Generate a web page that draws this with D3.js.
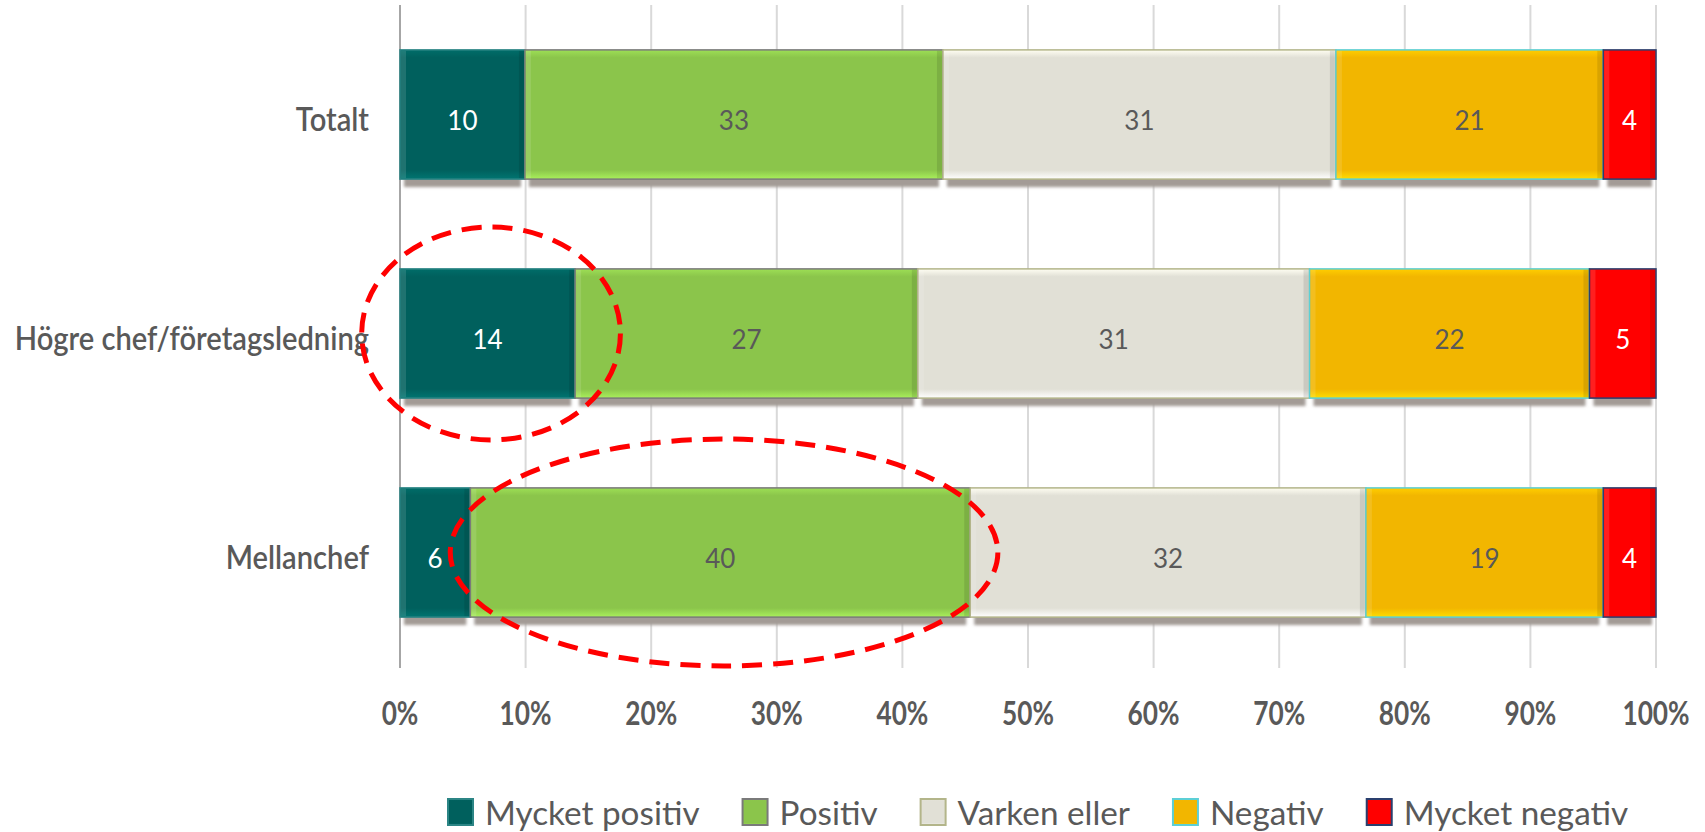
<!DOCTYPE html>
<html>
<head>
<meta charset="utf-8">
<script src="https://cdn.jsdelivr.net/npm/d3@7"></script>
<style>
  body { margin: 0; background: #fff; }
  svg { display: block; font-family: Lato, "Open Sans", sans-serif; }
</style>
</head>
<body>
<svg width="1705" height="832"></svg>
<script>
(function () {
    'use strict'

    // data (shares in %, stacked to 100)
    const categories = ['Totalt', 'Högre chef/företagsledning', 'Mellanchef'];
    const seriesNames = ['Mycket positiv', 'Positiv', 'Varken eller', 'Negativ', 'Mycket negativ'];
    const mycketPositiv = [9.95, 13.95, 5.6];
    const positiv = [33.3, 27.3, 39.8];
    const varkenEller = [31.3, 31.2, 31.5];
    const negativ = [21.3, 22.3, 18.9];
    const mycketNegativ = [4.2, 5.3, 4.2];
    const tickValues = [0, 0.1, 0.2, 0.3, 0.4, 0.5, 0.6, 0.7, 0.8, 0.9, 1];

    // red dashed rings drawn on top (centre / half width in %, half height in band steps)
    const highlights = [
        { category: 'Högre chef/företagsledning', center: 7.25, halfWidth: 10.3, halfHeight: 0.486 },
        { category: 'Mellanchef', center: 25.8, halfWidth: 21.8, halfHeight: 0.518 }
    ];

    const fills = ['#00605d', '#8bc54b', '#e1e0d6', '#f2b600', '#ff0000'];
    const borders = ['#2c8585', '#7a7a7a', '#b3b58a', '#5ccfd6', '#2a3f6e'];
    const labelColors = ['#ffffff', '#595959', '#595959', '#595959', '#ffffff'];

    const seriesValues = [mycketPositiv, positiv, varkenEller, negativ, mycketNegativ];
    const table = categories.map((c, i) => {
        let row = { category: c };
        seriesNames.forEach((s, j) => row[s] = seriesValues[j][i]);
        return row;
    });

    let svg = d3.select('svg'),
        margin = { top: 5, right: 49, bottom: 170, left: 400 },
        width = +svg.attr('width') - margin.left - margin.right,
        height = +svg.attr('height') - margin.top - margin.bottom,
        g = svg.append('g').attr('transform', 'translate(' + margin.left + ',' + margin.top + ')');

    let x = d3.scaleLinear().domain([0, 1]).range([0, width]);
    let y = d3.scaleBand().domain(categories).range([0, height])
        .paddingInner(0.41).paddingOuter(0.205);
    const bw = y.bandwidth();

    const layers = d3.stack().keys(seriesNames).offset(d3.stackOffsetExpand)(table);

    // narrow / widen text horizontally, keeping its height
    function squeeze(sel, k) {
        sel.each(function () {
            const w = this.getComputedTextLength();
            d3.select(this).attr('textLength', w * k).attr('lengthAdjust', 'spacingAndGlyphs');
        });
    }

    // gradients for the bevelled look
    let defs = svg.append('defs');
    fills.forEach((c, i) => {
        let grad = defs.append('linearGradient').attr('id', 'bev' + i)
            .attr('x1', 0).attr('x2', 0).attr('y1', 0).attr('y2', 1);
        let light = d3.color(c).brighter(0.35).formatHex();
        let lighter = d3.color(c).brighter(0.55).formatHex();
        grad.append('stop').attr('offset', 0).attr('stop-color', light);
        grad.append('stop').attr('offset', 0.06).attr('stop-color', c);
        grad.append('stop').attr('offset', 0.93).attr('stop-color', c);
        grad.append('stop').attr('offset', 1).attr('stop-color', lighter);
    });
    defs.append('filter').attr('id', 'soft')
        .attr('x', -0.1).attr('y', -0.1).attr('width', 1.2).attr('height', 1.3)
        .append('feGaussianBlur').attr('stdDeviation', 1.6);

    // grid
    g.selectAll('line.grid')
        .data(tickValues)
        .enter()
        .append('line')
        .attr('class', 'grid')
        .attr('x1', d => x(d)).attr('x2', d => x(d))
        .attr('y1', 0).attr('y2', height + 6)
        .style('stroke', d => d === 0 ? '#a6a6a6' : '#d9d9d9')
        .style('stroke-width', 2);

    // x tick labels
    let tickText = g.selectAll('text.tick')
        .data(tickValues)
        .enter()
        .append('text')
        .attr('class', 'tick')
        .attr('x', d => x(d))
        .attr('y', height + 63)
        .attr('text-anchor', 'middle')
        .style('font-size', '32px')
        .style('font-weight', 700)
        .style('fill', '#595959')
        .text(d3.format('.0%'));
    squeeze(tickText, 0.82);

    // category labels
    let catText = g.selectAll('text.cat')
        .data(categories)
        .enter()
        .append('text')
        .attr('class', 'cat')
        .attr('x', -31)
        .attr('y', d => y(d) + bw / 2 + 16)
        .attr('text-anchor', 'end')
        .style('font-size', '32px')
        .style('font-weight', 600)
        .style('fill', '#595959')
        .text(d => d);
    squeeze(catText, 0.91);

    // shadows
    layers.forEach(layer => {
        g.selectAll(null)
            .data(layer)
            .enter()
            .append('rect')
            .attr('x', d => x(d[0]) + 4)
            .attr('y', d => y(d.data.category) + 8)
            .attr('width', d => Math.max(0, x(d[1]) - x(d[0]) - 8))
            .attr('height', bw)
            .style('fill', '#a39b96')
            .attr('filter', 'url(#soft)');
    });

    // bars
    layers.forEach((layer, i) => {
        let seg = g.selectAll(null)
            .data(layer)
            .enter()
            .append('g');

        seg.append('rect')
            .attr('x', d => x(d[0]))
            .attr('y', d => y(d.data.category))
            .attr('width', d => x(d[1]) - x(d[0]))
            .attr('height', bw)
            .style('fill', 'url(#bev' + i + ')')
            .style('stroke', borders[i])
            .style('stroke-width', 1.5);

        seg.append('rect')
            .attr('x', d => x(d[0]) + 1)
            .attr('y', d => y(d.data.category) + 1)
            .attr('width', 5)
            .attr('height', bw - 2)
            .style('fill', '#ffffff')
            .style('opacity', 0.12);

        seg.append('rect')
            .attr('x', d => x(d[1]) - 6)
            .attr('y', d => y(d.data.category) + 1)
            .attr('width', 5)
            .attr('height', bw - 2)
            .style('fill', '#000000')
            .style('opacity', 0.1);

        seg.append('text')
            .attr('x', d => (x(d[0]) + x(d[1])) / 2)
            .attr('y', d => y(d.data.category) + bw / 2 + 15)
            .attr('text-anchor', 'middle')
            .style('font-size', '26px')
            .style('fill', labelColors[i])
            .text(d => Math.round(d.data[layer.key]));
    });

    // dashed rings
    const step = y.step();
    g.selectAll('ellipse')
        .data(highlights)
        .enter()
        .append('ellipse')
        .attr('cx', d => x(d.center / 100))
        .attr('cy', d => y(d.category) + bw / 2)
        .attr('rx', d => x(d.halfWidth / 100))
        .attr('ry', d => d.halfHeight * step)
        .style('fill', 'none')
        .style('stroke', '#ff0000')
        .style('stroke-width', 5)
        .style('stroke-dasharray', '20 11');

    // legend
    let legend = svg.append('g').attr('transform', 'translate(448,799)');
    let lx = 0;
    seriesNames.forEach((s, i) => {
        let item = legend.append('g').attr('transform', 'translate(' + lx + ',0)');
        item.append('rect')
            .attr('width', 25).attr('height', 26)
            .style('fill', 'url(#bev' + i + ')')
            .style('stroke', borders[i])
            .style('stroke-width', 2);
        let t = item.append('text')
            .attr('x', 37)
            .attr('y', 26)
            .style('font-size', '32px')
            .style('fill', '#595959')
            .text(s);
        squeeze(t, 1.04);
        lx += 37 + (+t.attr('textLength')) + 43;
    });
})();
</script>
</body>
</html>
